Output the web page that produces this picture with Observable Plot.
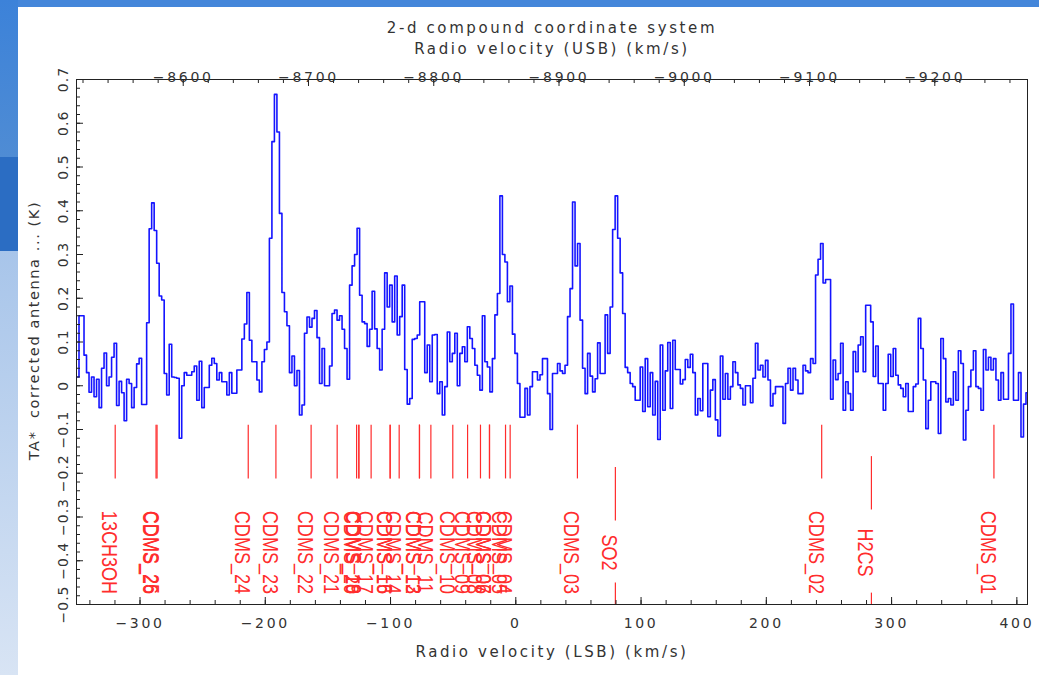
<!DOCTYPE html>
<html>
<head>
<meta charset="utf-8">
<script src="https://cdn.jsdelivr.net/npm/d3@7"></script>
<script src="https://cdn.jsdelivr.net/npm/@observablehq/plot@0.6"></script>
<style>
html, body { margin: 0; padding: 0; width: 1039px; height: 675px; overflow: hidden; background: #fff; }
#bandTop { position: absolute; left: 0; top: 0; width: 1039px; height: 7px; background: #4486da; }
#band1 { position: absolute; left: 0; top: 0; width: 18px; height: 157px; background: linear-gradient(#3c82d9, #4f8cd4); }
#band2 { position: absolute; left: 0; top: 157px; width: 18px; height: 94px; background: #2b6dc3; }
#band3 { position: absolute; left: 0; top: 251px; width: 18px; height: 424px; background: linear-gradient(#a8c5ea, #d8e4f4); }
#chart { position: absolute; left: 18px; top: 7px; }
</style>
</head>
<body>
<div id="bandTop"></div>
<div id="band1"></div>
<div id="band2"></div>
<div id="band3"></div>
<div id="chart"></div>
<script>
// ---- spectrum: channel start velocity, channel width (km/s) and antenna temperatures (K)
const vStart = -350.7;
const chanWidth = 2.0;
const ta = [
  // -350.7 .. -158.7
  0.02, 0.16, 0.16, 0.07, 0.03, -0.015, 0.02, -0.025, 0.015, -0.05,
  0.04, 0.075, 0.0, 0.02, 0.065, 0.097, -0.045, 0.01, -0.016, -0.08,
  0.015, 0.005, -0.05, -0.004, 0.05, 0.063, -0.043, -0.043, 0.144, 0.359,
  0.418, 0.355, 0.28, 0.205, 0.196, 0.028, -0.021, 0.095, 0.02, 0.019,
  0.017, -0.12, 0.0, 0.03, 0.024, 0.024, 0.032, 0.045, -0.033, 0.056,
  -0.05, -0.004, -0.004, 0.047, 0.063, 0.051, 0.013, 0.03, 0.009, 0.009,
  -0.021, 0.03, -0.017, -0.017, 0.036, 0.036, 0.107, 0.141, 0.213, 0.104,
  0.055, 0.055, 0.013, -0.014, 0.055, 0.083, 0.1, 0.337, 0.558, 0.666,
  0.58, 0.394, 0.213, 0.169, 0.137, 0.03, 0.068, 0.0, 0.035, -0.067,
  -0.044, 0.12, 0.157, 0.134, 0.154, 0.172,
  // -158.7 .. 33.3
  0.11, 0.005, 0.085, 0.0, 0.0, 0.045, 0.165, 0.173, 0.15, 0.16,
  0.129, 0.085, 0.015, 0.23, 0.274, 0.3, 0.36, 0.207, 0.146, 0.142,
  0.09, 0.129, 0.216, 0.13, 0.085, 0.036, 0.129, 0.258, 0.18, 0.23,
  0.146, 0.251, 0.116, 0.158, 0.23, 0.037, -0.042, -0.029, 0.106, 0.108,
  0.116, 0.192, 0.192, 0.03, 0.093, 0.009, 0.116, 0.117, -0.018, 0.009,
  -0.067, -0.002, 0.123, 0.055, 0.074, 0.12, 0.0, 0.074, 0.089, 0.055,
  0.135, 0.108, 0.085, 0.047, 0.024, -0.01, 0.16, 0.055, 0.043, -0.014,
  0.062, 0.162, 0.211, 0.434, 0.3, 0.283, 0.192, 0.228, 0.118, 0.074,
  0.005, -0.072, -0.072, -0.006, -0.067, -0.002, 0.032, 0.032, 0.013, 0.025,
  0.062, 0.062, -0.018, -0.1, 0.028, 0.028,
  // 33.3 .. 221.3
  0.051, 0.034, 0.028, 0.047, 0.158, 0.222, 0.42, 0.274, 0.325, 0.15,
  0.04, -0.018, 0.074, 0.022, -0.014, 0.016, 0.098, 0.028, 0.028, 0.162,
  0.074, 0.18, 0.357, 0.434, 0.337, 0.258, 0.165, 0.042, 0.03, 0.005,
  -0.002, -0.033, -0.033, 0.043, -0.059, 0.062, -0.048, 0.03, -0.067, 0.01,
  -0.123, 0.093, -0.056, 0.034, 0.099, -0.052, 0.104, 0.037, 0.037, 0.004,
  0.014, 0.06, 0.042, 0.072, 0.03, -0.067, -0.029, -0.057, 0.051, 0.051,
  -0.071, -0.01, 0.014, -0.078, -0.115, 0.068, -0.031, 0.028, -0.031, -0.002,
  0.055, 0.03, 0.002, -0.006, -0.044, 0.0, 0.0, -0.039, 0.017, 0.097,
  0.036, 0.047, 0.02, 0.058, 0.013, -0.046, -0.018, -0.002, -0.002, -0.002,
  -0.086, 0.005, 0.04, -0.01,
  // 221.3 .. 409.3
  0.04, 0.013, -0.018, -0.018, 0.047, 0.034, 0.03, 0.062, 0.051, 0.253,
  0.289, 0.325, 0.235, 0.243, 0.243, -0.031, 0.059, 0.014, 0.028, 0.097,
  -0.056, 0.009, -0.018, -0.056, 0.078, 0.032, 0.093, 0.112, 0.032, 0.184,
  0.184, 0.146, 0.021, 0.091, 0.005, 0.005, -0.056, 0.005, 0.072, 0.021,
  0.085, 0.024, 0.002, -0.006, -0.025, 0.005, -0.059, -0.059, -0.002, 0.004,
  0.154, 0.085, 0.013, -0.098, -0.033, 0.009, 0.009, 0.005, -0.109, 0.108,
  0.062, -0.037, -0.029, -0.044, 0.032, -0.033, 0.08, 0.051, -0.124, -0.056,
  -0.002, 0.036, 0.08, -0.002, -0.006, -0.056, 0.083, 0.036, 0.065, 0.036,
  0.062, 0.013, -0.033, 0.03, -0.031, -0.031, 0.074, 0.187, -0.033, -0.033,
  0.03, -0.117, -0.042, -0.016
];

// ---- line identifications (short markers)
const lineNames = ["13CH3OH", "CDMS_26", "CDMS_25", "CDMS_24", "CDMS_23", "CDMS_22", "CDMS_21",
  "CDMS_20", "CDMS_19", "CDMS_18", "CDMS_17", "CDMS_16", "CDMS_15", "CDMS_14", "CDMS_13",
  "CDMS_12", "CDMS_11", "CDMS_10", "CDMS_09", "CDMS_08", "CDMS_07", "CDMS_06", "CDMS_05",
  "CDMS_04", "CDMS_03", "CDMS_02", "CDMS_01"];
const lineVel = [-319.8, -287.2, -286.4, -213.6, -191.5, -163.4, -142.6,
  -127.1, -125.3, -125.3, -115.5, -100.3, -100.3, -93.1, -76.9,
  -76.9, -67.8, -50.3, -38.5, -28.2, -21.0, -21.0, -8.2,
  -4.5, 49.2, 244.2, 381.7];
const markerTop = -0.09;
const markerBottom = -0.213;
const labelY = -0.381;

// ---- line identifications (long markers, interrupted by the label)
const longNames = ["SO2", "H2CS"];
const longVel = [79.5, 283.9];
const longUpperTop = [-0.187, -0.162];
const longUpperBottom = [-0.309, -0.284];
const longLowerTop = [-0.451, -0.474];
const longLowerBottom = [-0.5, -0.5];

// ---- axes
const xDomain = [-350.7, 408.5];
const yDomain = [-0.5, 0.7];
const usbOffset = -8865.5;           // USB velocity = usbOffset - LSB velocity
const xMajor = [-300, -200, -100, 0, 100, 200, 300, 400];
const xMinor = d3.range(-340, 401, 20);
const topMajor = [-8600, -8700, -8800, -8900, -9000, -9100, -9200];
const topMinor = d3.range(-8520, -9261, -20);
const yMajor = [-0.5, -0.4, -0.3, -0.2, -0.1, 0, 0.1, 0.2, 0.3, 0.4, 0.5, 0.6, 0.7];
const yMinor = d3.range(-25, 36, 1).map(k => k / 50);
const titleTop = ["2-d compound coordinate system"];
const titleTop2 = ["Radio velocity (USB) (km/s)"];
const titleBottom = ["Radio velocity (LSB) (km/s)"];
const titleLeft = ["TA*  corrected antenna ... (K)"];

// ---- tables
const spectrum = ta.map((t, i) => ({v: vStart + chanWidth * (i + 0.5), t}));
const lines = lineNames.map((name, i) => ({name, v: lineVel[i]}));
const longLines = longNames.map((name, i) => ({
  name, v: longVel[i],
  u1: longUpperTop[i], u2: longUpperBottom[i],
  l1: longLowerTop[i], l2: longLowerBottom[i]
}));
const allLabels = lines.concat(longLines.map(d => ({name: d.name, v: d.v})));

const W = 1021, H = 668;
const mL = 58, mT = 72, mR = 12, mB = 71;
const PW = W - mL - mR, PH = H - mT - mB;
const ink = "#222";
const txt = "#333";
const red = "#ff2c2c";
const font = "DejaVu Sans";
const minus = s => s.replace("-", "\u2212");
const fmtY = d => d === 0 ? "0" : minus(d.toFixed(1));
const fmtX = d => minus(String(d));

const chart = Plot.plot({
  width: W,
  height: H,
  marginLeft: mL,
  marginTop: mT,
  marginRight: mR,
  marginBottom: mB,
  style: {background: "white", fontFamily: font},
  x: {domain: xDomain, axis: null},
  y: {domain: yDomain, axis: null},
  marks: [
    // spectrum
    Plot.lineY(spectrum, {x: "v", y: "t", curve: "step", stroke: "#1414ff", strokeWidth: 1.6, clip: true}),
    // line markers
    Plot.ruleX(lines, {x: "v", y1: () => markerTop, y2: () => markerBottom, stroke: red, strokeWidth: 1.2}),
    Plot.ruleX(longLines, {x: "v", y1: "u1", y2: "u2", stroke: red, strokeWidth: 1.2}),
    Plot.ruleX(longLines, {x: "v", y1: "l1", y2: "l2", stroke: red, strokeWidth: 1.2}),
    Plot.text(allLabels, {x: "v", y: () => labelY, text: "name", rotate: 90, fill: red,
      fontSize: 22, fontFamily: "Liberation Sans", dx: -6}),
    // frame
    Plot.frame({stroke: ink, strokeWidth: 1}),
    // bottom ticks
    Plot.ruleX(xMinor, {x: d => d, insetTop: PH - 4, stroke: ink}),
    Plot.ruleX(xMajor, {x: d => d, insetTop: PH - 7, stroke: ink}),
    // top ticks (USB axis)
    Plot.ruleX(topMinor, {x: d => usbOffset - d, insetBottom: PH - 4, stroke: ink}),
    Plot.ruleX(topMajor, {x: d => usbOffset - d, insetBottom: PH - 7, stroke: ink}),
    // left ticks
    Plot.ruleY(yMinor, {y: d => d, insetRight: PW - 4, stroke: ink}),
    Plot.ruleY(yMajor, {y: d => d, insetRight: PW - 7, stroke: ink}),
    // tick labels
    Plot.text(xMajor, {x: d => d, text: fmtX, frameAnchor: "bottom", dy: 23.5,
      textAnchor: "middle", fontSize: 14, fontFamily: font, fill: txt}),
    Plot.text(topMajor, {x: d => usbOffset - d, text: fmtX, frameAnchor: "top", dy: -7.8,
      textAnchor: "middle", fontSize: 14, fontFamily: font, fill: txt}),
    Plot.text(yMajor, {y: d => d, text: fmtY, frameAnchor: "left", dx: -13, rotate: -90,
      textAnchor: "middle", fontSize: "14px", fontFamily: font, fill: txt}),
    // titles
    Plot.text(titleTop, {text: d => d, frameAnchor: "top", dy: -57.1,
      textAnchor: "middle", fontSize: 15, fontFamily: font, fill: txt}),
    Plot.text(titleTop2, {text: d => d, frameAnchor: "top", dy: -36.3,
      textAnchor: "middle", fontSize: 15, fontFamily: font, fill: txt}),
    Plot.text(titleBottom, {text: d => d, frameAnchor: "bottom", dy: 52.2,
      textAnchor: "middle", fontSize: 15, fontFamily: font, fill: txt}),
    Plot.text(titleLeft, {text: d => d, frameAnchor: "left", dx: -42, dy: -11.5, rotate: -90,
      textAnchor: "middle", fontSize: 14.5, fontFamily: font, fill: txt})
  ]
});

// text styling by group font size: wide letter spacing (axis text), condensed labels (line ids)
chart.querySelectorAll("g[font-size]").forEach(g => {
  const fs = g.getAttribute("font-size");
  if (fs === "14") g.style.letterSpacing = "2.7px";
  else if (fs === "14px") g.style.letterSpacing = "1px";
  else if (fs === "15") g.style.letterSpacing = "2.6px";
  else if (fs === "14.5") g.style.letterSpacing = "1.6px";
  else if (fs === "22") {
    g.querySelectorAll("text").forEach(t => {
      const tr = t.getAttribute("transform") || "";
      t.setAttribute("transform", tr + " scale(0.82,1)");
    });
  }
});

document.getElementById("chart").appendChild(chart);
</script>
</body>
</html>
